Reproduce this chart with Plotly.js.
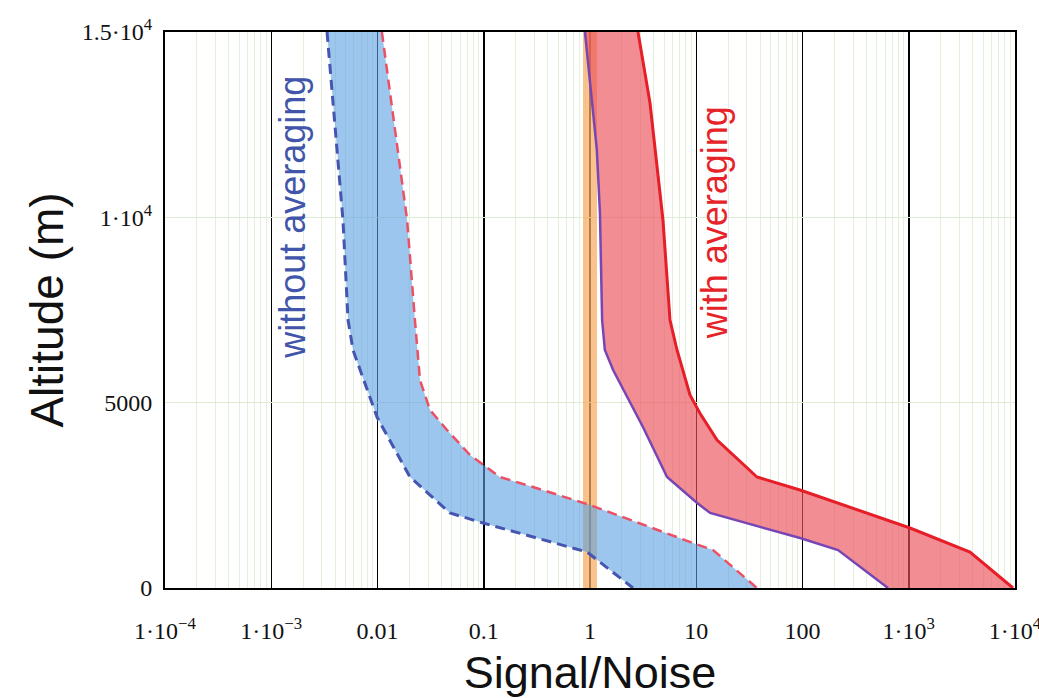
<!DOCTYPE html>
<html><head><meta charset="utf-8">
<script src="https://cdn.plot.ly/plotly-3.0.1.min.js"></script>
<style>body{margin:0;background:#fff}</style></head>
<body><div id="chart" style="width:1039px;height:698px"></div>
<script>
// Without averaging: lower (blue dashed) and upper (red dashed) S/N bounds
const withoutLowSN  = [0.00335, 0.00473, 0.00528, 0.00588, 0.00989, 0.0202, 0.0481, 0.0984, 0.937, 2.54];
const withoutLowAlt = [15000, 9928, 7230, 6421, 4613, 2995, 2024, 1754, 971, 0];
const withoutHighSN  = [0.0110, 0.0146, 0.0190, 0.0225, 0.0251, 0.0312, 0.0451, 0.0742, 0.142, 0.291, 1.0, 9.31, 14.4, 37.3];
const withoutHighAlt = [15000, 12357, 9928, 7230, 5612, 4802, 4263, 3588, 2995, 2725, 2239, 1214, 1025, 0];
// With averaging: lower (purple solid) and upper (red solid) S/N bounds
const withLowSN  = [0.897, 1.16, 1.24, 1.30, 1.38, 1.65, 3.15, 5.31, 10.2, 13.5, 94.7, 216, 638];
const withLowAlt = [15000, 11817, 10118, 7230, 6421, 5882, 4344, 2995, 2293, 2024, 1349, 1025, 0];
const withHighSN  = [2.83, 3.67, 4.86, 5.66, 6.59, 8.73, 10.8, 15.7, 37.3, 94.7, 1028, 3770, 9580];
const withHighAlt = [15000, 13085, 9928, 7230, 6421, 5207, 4722, 3993, 2995, 2644, 1619, 971, 0];
// Detection threshold S/N = 1
const thresholdSN  = [1, 1];
const thresholdAlt = [0, 15000];

const xTickVals = [1e-4, 1e-3, 0.01, 0.1, 1, 10, 100, 1e3, 1e4];
const xTickText = ['1·10<sup>−4</sup>', '1·10<sup>−3</sup>', '0.01', '0.1', '1', '10', '100', '1·10<sup>3</sup>', '1·10<sup>4</sup>'];
const yTickVals = [0, 5000, 10000, 15000];
const yTickText = ['0', '5000', '1·10<sup>4</sup>', '1.5·10<sup>4</sup>'];

const minorVals = [];
for (let d = -4; d < 4; d++) for (let k = 2; k <= 9; k++) minorVals.push(k * Math.pow(10, d));

const traces = [
  {x: thresholdSN, y: thresholdAlt, mode: 'lines', line: {color: 'rgba(248,170,95,0.72)', width: 14}, hoverinfo: 'skip'},
  {x: withoutLowSN, y: withoutLowAlt, mode: 'lines', line: {color: 'rgb(70,85,175)', width: 3, dash: '10px,6px'}},
  {x: withoutHighSN, y: withoutHighAlt, mode: 'lines', fill: 'tonextx', fillcolor: 'rgba(90,160,225,0.6)',
   line: {color: 'rgb(235,80,100)', width: 2.5, dash: '10px,6px'}},
  {x: withLowSN, y: withLowAlt, mode: 'lines', line: {color: 'rgb(120,70,180)', width: 2.5}},
  {x: withHighSN, y: withHighAlt, mode: 'lines', fill: 'tonextx', fillcolor: 'rgba(235,80,90,0.65)',
   line: {color: 'rgb(230,30,40)', width: 3}}
];

const serif = 'Liberation Serif, Times New Roman, serif';
const sans = 'Liberation Sans, Arial, sans-serif';

const layout = {
  width: 1039, height: 698,
  margin: {l: 165, r: 24, t: 32, b: 110},
  paper_bgcolor: '#fff', plot_bgcolor: '#fff',
  showlegend: false,
  xaxis: {
    type: 'log', range: [-4, 4],
    tickmode: 'array', tickvals: xTickVals, ticktext: xTickText,
    tickfont: {family: serif, size: 24, color: '#111'},
    ticks: '', ticklabelstandoff: 20, ticklabeloverflow: 'allow',
    showgrid: true, gridcolor: '#000', gridwidth: 1.5,
    minor: {tickmode: 'array', tickvals: minorVals, showgrid: true, gridcolor: 'rgb(228,240,220)', gridwidth: 1, ticks: ''},
    showline: true, mirror: true, linecolor: '#000', linewidth: 2,
    zeroline: false,
    title: {text: 'Signal/Noise', font: {family: sans, size: 45, color: '#111'}, standoff: 14}
  },
  yaxis: {
    range: [0, 15000],
    tickmode: 'array', tickvals: yTickVals, ticktext: yTickText,
    tickfont: {family: serif, size: 24, color: '#111'},
    ticks: '', ticklabelstandoff: 6,
    showgrid: true, gridcolor: 'rgb(222,236,212)', gridwidth: 1,
    showline: true, mirror: true, linecolor: '#000', linewidth: 2,
    zeroline: false,
    title: {text: 'Altitude (m)', font: {family: sans, size: 46, color: '#111'}, standoff: 4}
  },
  annotations: [
    {xref: 'paper', yref: 'paper', x: 0.149, y: 0.667, xanchor: 'center', yanchor: 'middle',
     text: 'without averaging', showarrow: false, textangle: -90,
     font: {family: sans, size: 36, color: 'rgb(65,85,170)'}},
    {xref: 'paper', yref: 'paper', x: 0.646, y: 0.656, xanchor: 'center', yanchor: 'middle',
     text: 'with averaging', showarrow: false, textangle: -90,
     font: {family: sans, size: 36, color: 'rgb(230,35,40)'}}
  ]
};

Plotly.newPlot('chart', traces, layout, {displayModeBar: false, staticPlot: true});
</script>
</body></html>
